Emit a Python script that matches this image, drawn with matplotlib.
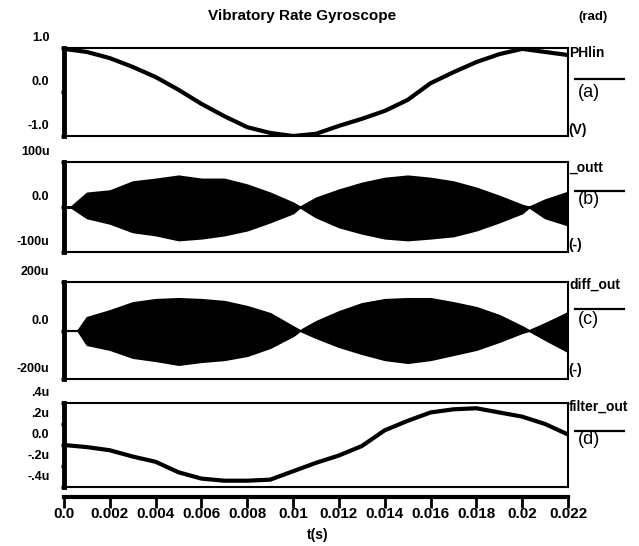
import matplotlib
matplotlib.use('Agg')
import matplotlib.pyplot as plt
import matplotlib.transforms as mtransforms
from matplotlib.lines import Line2D

plt.rcParams['font.family'] = ['Liberation Sans', 'DejaVu Sans']

W, H = 639, 546

# time axis (s)
t = [0.0, 0.001, 0.002, 0.003, 0.004, 0.005, 0.006, 0.007, 0.008, 0.009, 0.010,
     0.011, 0.012, 0.013, 0.014, 0.015, 0.016, 0.017, 0.018, 0.019, 0.020, 0.021, 0.022]

# (a) PHlin (rad)
phlin = [0.98, 0.91, 0.77, 0.57, 0.34, 0.05, -0.27, -0.55, -0.80, -0.93, -1.0,
         -0.95, -0.77, -0.61, -0.43, -0.18, 0.20, 0.45, 0.68, 0.86, 0.98, 0.91, 0.84]

# (b) _outt envelope (u)
t_env_b = [0.0, 0.0003, 0.001, 0.002, 0.003, 0.004, 0.005, 0.006, 0.007, 0.008, 0.009, 0.010, 0.0103,
           0.011, 0.012, 0.013, 0.014, 0.015, 0.016, 0.017, 0.018, 0.019, 0.020, 0.0203, 0.021, 0.022]
outt_hi = [0, 0, 31, 36, 56, 62, 69, 62, 62, 49, 31, 9, 0,
           20, 38, 53, 64, 69, 64, 56, 42, 24, 4, 0, 16, 33]
outt_lo = [0, 0, -24, -36, -55, -62, -73, -69, -62, -51, -33, -13, 0,
           -22, -44, -58, -69, -73, -69, -64, -51, -33, -13, 0, -24, -40]

# (c) diff_out envelope (u)
t_env_c = [0.0, 0.0006, 0.001, 0.002, 0.003, 0.004, 0.005, 0.006, 0.007, 0.008, 0.009, 0.010, 0.0103,
           0.011, 0.012, 0.013, 0.014, 0.015, 0.016, 0.017, 0.018, 0.019, 0.020, 0.0203, 0.021, 0.022]
diff_hi = [0, 0, 54, 82, 115, 128, 132, 128, 120, 99, 70, 16, 0,
           37, 78, 111, 128, 132, 132, 115, 95, 62, 16, 0, 29, 74]
diff_lo = [0, 0, -58, -78, -111, -124, -140, -128, -120, -103, -70, -21, 0,
           -29, -66, -95, -120, -132, -120, -99, -78, -45, -8, 0, -37, -87]

# (d) filter_out (u)
filt = [0.0, -0.02, -0.05, -0.11, -0.16, -0.26, -0.32, -0.34, -0.34, -0.33, -0.25,
        -0.17, -0.10, -0.01, 0.14, 0.23, 0.31, 0.34, 0.35, 0.31, 0.27, 0.20, 0.10]

ticks_a = [1.0, 0.0, -1.0]
labels_a = ['1.0', '0.0', '-1.0']
ticks_b = [100, 0, -100]
labels_b = ['100u', '0.0', '-100u']
ticks_c = [200, 0, -200]
labels_c = ['200u', '0.0', '-200u']
ticks_d = [0.4, 0.2, 0.0, -0.2, -0.4]
labels_d = ['.4u', '.2u', '0.0', '-.2u', '-.4u']
xticks = [0.0, 0.002, 0.004, 0.006, 0.008, 0.01, 0.012, 0.014, 0.016, 0.018, 0.02, 0.022]
xlabels = ['0.0', '0.002', '0.004', '0.006', '0.008', '0.01', '0.012', '0.014', '0.016', '0.018', '0.02', '0.022']


def fx(x):
    return x / W


def fy(y):
    return 1 - y / H


def panel(fig, top, bottom, ylim, ticks, labels):
    ax = fig.add_axes([fx(64), fy(bottom), fx(568) - fx(64), fy(top) - fy(bottom)])
    ax.set_xlim(0, 0.022)
    ax.set_ylim(*ylim)
    ax.set_xticks([])
    ax.set_yticks(ticks)
    ax.set_yticklabels(labels, fontsize=9, fontweight='bold')
    ax.tick_params(axis='y', length=2.5, width=2.5, pad=8)
    for side in ['top', 'right', 'bottom']:
        ax.spines[side].set_linewidth(1.5)
    ax.spines['left'].set_linewidth(3.5)
    shift = mtransforms.ScaledTranslation(0, 8 / 72, fig.dpi_scale_trans)
    for lab in ax.get_yticklabels():
        lab.set_transform(lab.get_transform() + shift)
    return ax


def side_labels(fig, name, name_y, line_y, tag, tag_y, unit=None, unit_y=None):
    fig.text(fx(569), fy(name_y), name, fontsize=10, fontweight='bold', va='center', ha='left')
    fig.add_artist(Line2D([fx(575), fx(624)], [fy(line_y), fy(line_y)],
                          transform=fig.transFigure, color='black', lw=1.6))
    fig.text(fx(578), fy(tag_y), tag, fontsize=13, va='center', ha='left')
    if unit:
        fig.text(fx(568), fy(unit_y), unit, fontsize=10, fontweight='bold', va='center', ha='left')


fig = plt.figure(figsize=(W / 100, H / 100), dpi=100)

ax_a = panel(fig, 48, 136, (-1.0, 1.0), ticks_a, labels_a)
ax_a.plot(t, phlin, color='black', lw=3)

ax_b = panel(fig, 162, 252, (-100, 100), ticks_b, labels_b)
ax_b.fill_between(t_env_b, outt_lo, outt_hi, color='black', lw=1.5)

ax_c = panel(fig, 282, 379, (-200, 200), ticks_c, labels_c)
ax_c.fill_between(t_env_c, diff_lo, diff_hi, color='black', lw=1.5)

ax_d = panel(fig, 403, 487, (-0.4, 0.4), ticks_d, labels_d)
ax_d.plot(t, filt, color='black', lw=3)

# separate time axis below the panels
ax_x = fig.add_axes([fx(64), fy(497), fx(568) - fx(64), 0.001])
ax_x.set_xlim(0, 0.022)
ax_x.set_yticks([])
for side in ['top', 'right', 'left']:
    ax_x.spines[side].set_visible(False)
ax_x.spines['bottom'].set_linewidth(3)
ax_x.set_xticks(xticks)
ax_x.set_xticklabels(xlabels, fontsize=11, fontweight='bold')
ax_x.tick_params(axis='x', direction='out', length=8, width=2, pad=-1)
ax_x.patch.set_visible(False)

fig.text(fx(302), fy(16), 'Vibratory Rate Gyroscope', fontsize=11, fontweight='bold', ha='center', va='center')
fig.text(fx(578), fy(17), '(rad)', fontsize=9.5, fontweight='bold', ha='left', va='center')
fig.text(fx(318), fy(535), 't(s)', fontsize=10, fontweight='bold', ha='center', va='center')

side_labels(fig, 'PHlin', 53, 79, '(a)', 92, '(V)', 130)
side_labels(fig, '_outt', 168, 191, '(b)', 200, '(-)', 245)
side_labels(fig, 'diff_out', 285, 309, '(c)', 320, '(-)', 370)
side_labels(fig, 'filter_out', 407, 431, '(d)', 440)

fig.savefig('out.png', dpi=100)
